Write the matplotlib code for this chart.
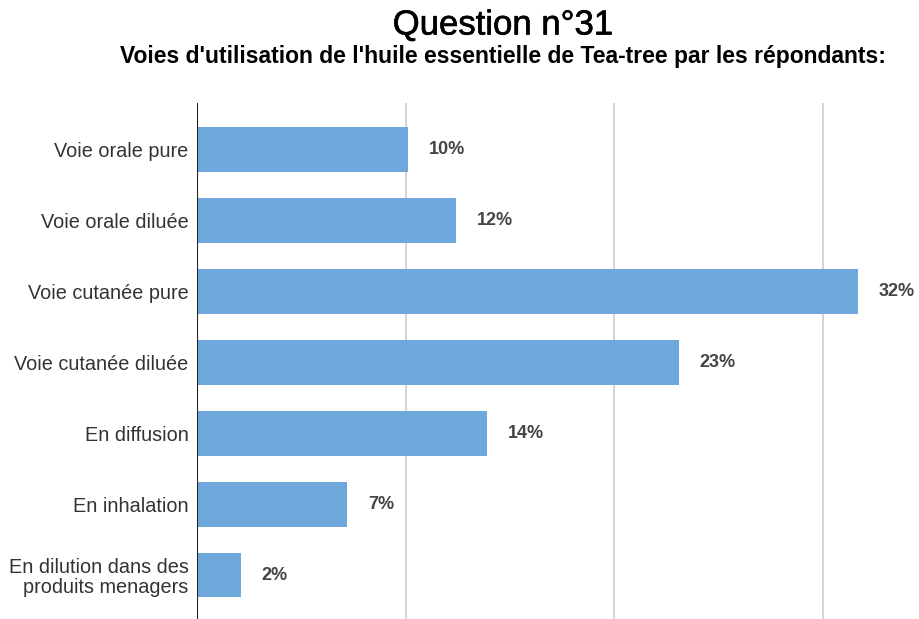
import matplotlib
matplotlib.use("Agg")
import matplotlib.pyplot as plt
import matplotlib.patheffects as pe

categories = ["Voie orale pure", "Voie orale diluée", "Voie cutanée pure",
              "Voie cutanée diluée", "En diffusion", "En inhalation",
              "En dilution dans des\nproduits menagers"]
values = [10.1, 12.4, 31.7, 23.1, 13.9, 7.2, 2.1]
value_labels = ["10%", "12%", "32%", "23%", "14%", "7%", "2%"]
grid_ticks = [10, 20, 30]

title = "Question n°31"
subtitle = "Voies d'utilisation de l'huile essentielle de Tea-tree par les répondants:"

W, H = 919, 619
fig = plt.figure(figsize=(W / 100, H / 100), dpi=100)
ax = fig.add_axes([197 / W, 0, 1 - 197 / W, (H - 103) / H])

y = list(range(len(categories)))
ax.barh(y, values, height=0.63, color="#6fa8dc", zorder=3)
ax.set_ylim(6.62, -0.66)
ax.set_xlim(0, (W - 197) / 20.85)

for v in grid_ticks:
    ax.axvline(v, color="#cccccc", lw=1.2, zorder=1)
ax.axvline(0, color="#222222", lw=1.5, zorder=4)

for yi, v, lab in zip(y, values, value_labels):
    ax.text(v + 1.0, yi, lab, va="center", ha="left", fontsize=13,
            fontweight="bold", color="#444444", family="Liberation Sans")

ax.set_yticks(y)
ax.set_yticklabels(categories, fontsize=14.3, color="#333333",
                   family="Liberation Sans", linespacing=1.05)
ax.tick_params(axis="y", length=0, pad=6)
ax.tick_params(axis="x", length=0, labelbottom=False)
for s in ax.spines.values():
    s.set_visible(False)

fig.text(503 / W, 1 - 25 / H, title, ha="center", va="center", fontsize=25,
         family="Liberation Sans", color="#000000",
         path_effects=[pe.withStroke(linewidth=0.45, foreground="#000000")])
fig.text(503 / W, 1 - 57 / H, subtitle, ha="center", va="center", fontsize=16.5,
         fontweight="bold", family="Liberation Sans", color="#000000")

fig.savefig("out.png", dpi=100)
